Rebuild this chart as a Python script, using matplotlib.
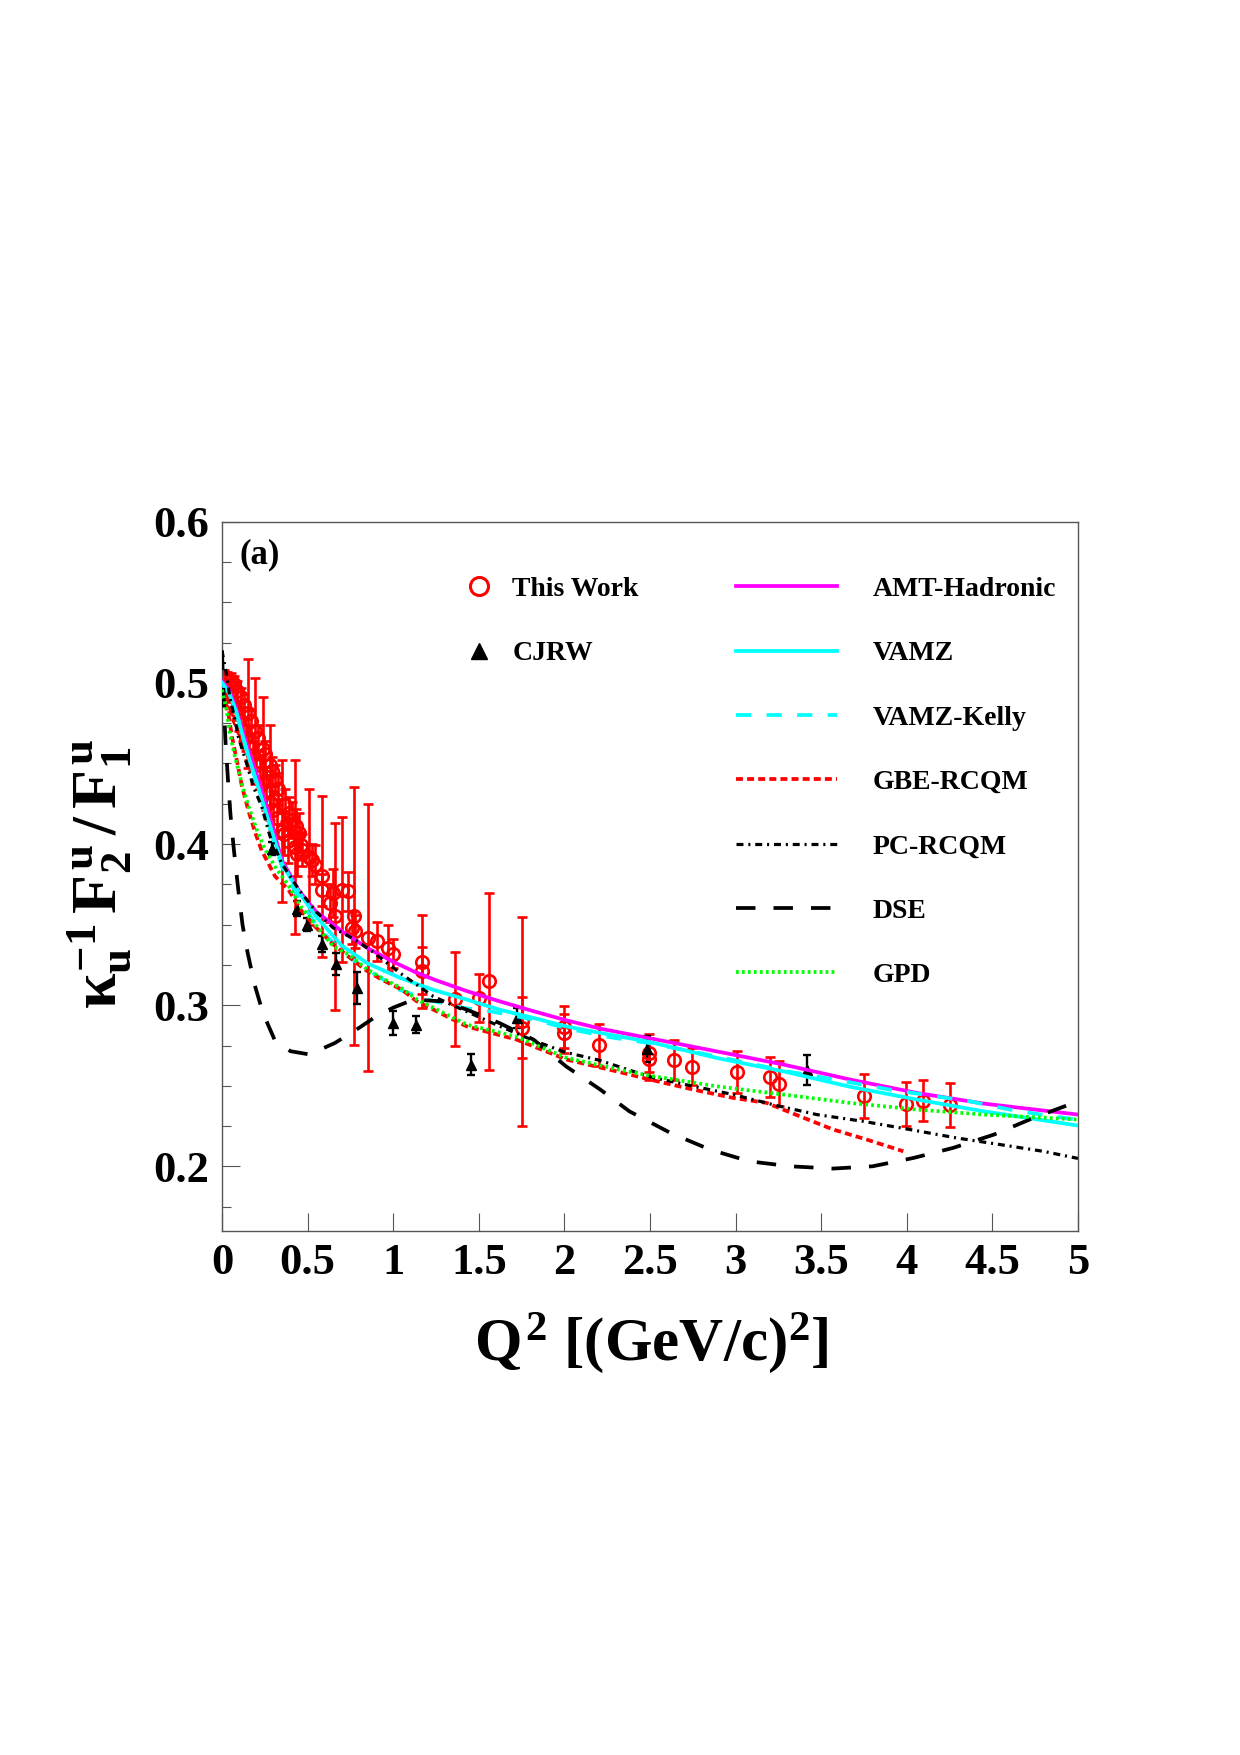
import matplotlib
matplotlib.use('Agg')
import matplotlib.pyplot as plt
from matplotlib.ticker import MultipleLocator
from matplotlib.lines import Line2D

plt.rcParams['font.family'] = ['Liberation Serif', 'DejaVu Serif']
plt.rcParams['font.weight'] = 'bold'
plt.rcParams['mathtext.fontset'] = 'custom'
plt.rcParams['mathtext.rm'] = 'Liberation Serif:bold'
plt.rcParams['mathtext.it'] = 'Liberation Serif:bold'
plt.rcParams['mathtext.bf'] = 'Liberation Serif:bold'
plt.rcParams['lines.scale_dashes'] = False

# ---------------- data: This Work ----------------
tw_q2 = [0.010, 0.030, 0.050, 0.070, 0.090, 0.110, 0.130, 0.154, 0.170, 0.195, 0.210, 0.237, 0.250,
         0.280, 0.290, 0.310, 0.330, 0.370, 0.390, 0.410, 0.430, 0.450,
         0.020, 0.040, 0.060, 0.080, 0.100, 0.120, 0.140, 0.160, 0.180, 0.200, 0.220, 0.240, 0.260,
         0.280, 0.300, 0.320, 0.349, 0.360, 0.383, 0.428, 0.440,
         0.461, 0.469, 0.506, 0.524, 0.543, 0.582, 0.582, 0.631, 0.650, 0.660, 0.699, 0.738, 0.758,
         0.770, 0.777, 0.855, 0.903, 0.972, 1.002, 1.166, 1.166, 1.361, 1.499, 1.558, 1.751, 1.751,
         2.000, 2.000, 2.202, 2.496, 2.496, 2.640, 2.747, 3.006, 3.199, 3.252, 3.752, 3.998, 4.096, 4.252]
tw_r = [0.504, 0.503, 0.501, 0.499, 0.495, 0.491, 0.486, 0.481, 0.476, 0.470, 0.466, 0.459, 0.456,
        0.449, 0.445, 0.440, 0.434, 0.424, 0.419, 0.415, 0.411, 0.407,
        0.497, 0.493, 0.488, 0.483, 0.477, 0.471, 0.466, 0.460, 0.455, 0.449, 0.444, 0.438, 0.432,
        0.426, 0.421, 0.416, 0.408, 0.406, 0.402, 0.398, 0.394,
        0.3996, 0.3965, 0.392, 0.3903, 0.3872, 0.380, 0.3717, 0.3634, 0.3696, 0.3551, 0.3717, 0.3706, 0.3479,
        0.3555, 0.3458, 0.342, 0.3396, 0.3355, 0.3318, 0.327, 0.3215, 0.3039, 0.3045, 0.3148, 0.290, 0.286,
        0.2865, 0.2825, 0.2752, 0.2704, 0.2667, 0.266, 0.262, 0.2586, 0.2553, 0.2514, 0.2438, 0.2388, 0.2409, 0.238]
tw_err = [0.004, 0.004, 0.005, 0.005, 0.006, 0.006, 0.007, 0.034, 0.007, 0.033, 0.008, 0.032, 0.008,
          0.025, 0.009, 0.009, 0.010, 0.010, 0.010, 0.011, 0.011, 0.012,
          0.005, 0.005, 0.006, 0.006, 0.007, 0.007, 0.008, 0.008, 0.009, 0.009, 0.010, 0.010, 0.011,
          0.011, 0.012, 0.012, 0.044, 0.013, 0.014, 0.054, 0.014,
          0.008, 0.010, 0.042, 0.010, 0.012, 0.050, 0.010, 0.012, 0.015, 0.058, 0.045, 0.012, 0.010,
          0.080, 0.010, 0.083, 0.012, 0.014, 0.009, 0.029, 0.0145, 0.029, 0.015, 0.055, 0.065, 0.019,
          0.013, 0.012, 0.013, 0.012, 0.013, 0.0125, 0.0115, 0.013, 0.0125, 0.014, 0.0138, 0.0134, 0.0128, 0.0137]

# ---------------- data: CJRW ----------------
cj_q2 = [0.29, 0.44, 0.495, 0.586, 0.668, 0.787, 1.002, 1.131, 1.452, 1.721, 2.481, 3.415]
cj_r = [0.397, 0.360, 0.350, 0.338, 0.3257, 0.3107, 0.289, 0.288, 0.2632, 0.2921, 0.2729, 0.260]
cj_err = [0.004, 0.0045, 0.004, 0.0047, 0.007, 0.010, 0.0074, 0.0052, 0.0067, 0.006, 0.0083, 0.0093]

# ---------------- model curves ----------------
amt_q2 = [0, 0.04, 0.08, 0.15, 0.21, 0.27, 0.35, 0.45, 0.55, 0.7, 0.85, 1.0, 1.13, 1.25, 1.43, 1.62,
          1.82, 2.01, 2.21, 2.5, 2.89, 3.28, 3.67, 4.06, 4.45, 5.0]
amt_r = [0.501, 0.496, 0.485, 0.46, 0.441, 0.42, 0.39, 0.371, 0.358, 0.346, 0.3355, 0.327, 0.3205, 0.3155,
         0.3088, 0.3025, 0.2963, 0.2907, 0.2855, 0.2795, 0.2714, 0.2632, 0.2539, 0.2456, 0.239, 0.2322]

vamz_q2 = [0, 0.04, 0.08, 0.15, 0.21, 0.27, 0.35, 0.45, 0.55, 0.7, 0.85, 1.04, 1.23, 1.43, 1.62, 1.82,
           2.01, 2.21, 2.5, 2.89, 3.28, 3.67, 4.06, 4.45, 5.0]
vamz_r = [0.5, 0.494, 0.483, 0.456, 0.436, 0.415, 0.388, 0.37, 0.355, 0.337, 0.326, 0.317, 0.3097, 0.3035,
          0.2973, 0.2921, 0.2869, 0.2828, 0.2772, 0.2673, 0.259, 0.2494, 0.2415, 0.2342, 0.2254]

kelly_q2 = [0, 0.04, 0.08, 0.15, 0.21, 0.27, 0.35, 0.45, 0.55, 0.7, 0.88, 1.04, 1.2, 1.4, 1.57, 1.82,
            2.03, 2.27, 2.5, 2.9, 3.3, 3.6, 3.9, 4.37, 4.6, 4.82, 5.0]
kelly_r = [0.5, 0.494, 0.483, 0.456, 0.435, 0.413, 0.386, 0.366, 0.35, 0.333, 0.32, 0.3095, 0.3035, 0.2985,
           0.2962, 0.2911, 0.2853, 0.2801, 0.2765, 0.268, 0.259, 0.2535, 0.2477, 0.2404, 0.2353, 0.2316, 0.229]

gbe_q2 = [0, 0.037, 0.058, 0.086, 0.117, 0.155, 0.195, 0.232, 0.31, 0.388, 0.465, 0.543, 0.641, 0.738,
          0.835, 0.933, 1.05, 1.137, 1.429, 1.721, 2.013, 2.305, 2.5, 2.753, 2.987, 3.182, 3.376, 3.571,
          3.766, 3.98]
gbe_r = [0.4936, 0.4812, 0.4667, 0.4523, 0.4357, 0.4205, 0.4068, 0.396, 0.38, 0.3717, 0.3585, 0.3489,
         0.3386, 0.3303, 0.3221, 0.3159, 0.3097, 0.3025, 0.2869, 0.2787, 0.2663, 0.259, 0.2539, 0.2477,
         0.2425, 0.2394, 0.2311, 0.2229, 0.2167, 0.2094]

pc_q2 = [0, 0.027, 0.047, 0.076, 0.095, 0.144, 0.183, 0.232, 0.28, 0.349, 0.447, 0.55, 0.65, 0.777, 0.87,
         1.04, 1.234, 1.41, 1.6, 1.8, 2.0, 2.2, 2.5, 2.734, 2.987, 3.24, 3.474, 3.746, 4.019, 4.291, 4.544,
         4.797, 5.0]
pc_r = [0.52, 0.505, 0.4905, 0.477, 0.4667, 0.45, 0.4357, 0.4233, 0.405, 0.388, 0.372, 0.358, 0.348,
        0.3407, 0.334, 0.32, 0.3055, 0.297, 0.288, 0.279, 0.271, 0.266, 0.2556, 0.2502, 0.2446, 0.2378,
        0.2322, 0.228, 0.2229, 0.2177, 0.2136, 0.2094, 0.205]

dse_q2 = [0, 0.01, 0.02, 0.035, 0.05, 0.07, 0.095, 0.12, 0.145, 0.19, 0.24, 0.31, 0.40, 0.51, 0.66, 0.8,
          0.9, 1.0, 1.12, 1.29, 1.43, 1.62, 1.82, 2.01, 2.21, 2.38, 2.62, 2.85, 3.08, 3.32, 3.57, 3.8,
          4.04, 4.27, 4.51, 4.74, 5.0]
dse_r = [0.52, 0.49, 0.465, 0.44, 0.418, 0.396, 0.372, 0.35, 0.335, 0.313, 0.295, 0.278, 0.2715, 0.2695,
         0.2766, 0.2859, 0.2931, 0.2985, 0.3035, 0.3024, 0.2973, 0.289, 0.2787, 0.2621, 0.2477, 0.2342,
         0.2208, 0.2105, 0.2032, 0.2001, 0.1987, 0.2001, 0.2053, 0.2115, 0.2198, 0.2301, 0.2404]

gpd_q2 = [0, 0.027, 0.047, 0.076, 0.115, 0.155, 0.203, 0.25, 0.31, 0.39, 0.465, 0.543, 0.65, 0.74, 0.845,
          0.94, 1.05, 1.14, 1.43, 1.72, 2.01, 2.3, 2.5, 2.89, 3.28, 3.67, 4.06, 4.45, 5.0]
gpd_r = [0.4957, 0.4833, 0.468, 0.4543, 0.4378, 0.4233, 0.4089, 0.397, 0.386, 0.374, 0.3605, 0.3505,
         0.3365, 0.3315, 0.3225, 0.3165, 0.3105, 0.3035, 0.288, 0.2805, 0.2675, 0.2605, 0.2563, 0.2497,
         0.2446, 0.2394, 0.2353, 0.2322, 0.2291]

x_ticks = [0, 0.5, 1, 1.5, 2, 2.5, 3, 3.5, 4, 4.5, 5]
x_tick_labels = ['0', '0.5', '1', '1.5', '2', '2.5', '3', '3.5', '4', '4.5', '5']
y_ticks = [0.2, 0.3, 0.4, 0.5, 0.6]
y_tick_labels = ['0.2', '0.3', '0.4', '0.5', '0.6']

# ---------------- figure ----------------
fig = plt.figure(figsize=(12.4, 17.55), dpi=100)
ax = fig.add_axes([0.1790, 0.2986, 0.6903, 0.4042])

ax.errorbar(tw_q2, tw_r, yerr=tw_err, fmt='o', ms=9, mfc='none', mec='red', mew=1.9,
            ecolor='red', elinewidth=1.9, capsize=3.8, capthick=1.9, zorder=2)
ax.errorbar(cj_q2, cj_r, yerr=cj_err, fmt='^', ms=7.5, mfc='black', mec='black',
            ecolor='black', elinewidth=1.7, capsize=3.0, capthick=1.7, zorder=2)

lw = 2.7
ax.plot(amt_q2, amt_r, color='#ff00ff', lw=lw, zorder=4)
ax.plot(vamz_q2, vamz_r, color='#00ffff', lw=lw, zorder=4)
ax.plot(kelly_q2, kelly_r, color='#00ffff', lw=lw, dashes=[11, 11], zorder=4)
ax.plot(gbe_q2, gbe_r, color='#ff0000', lw=lw, dashes=[5, 3], zorder=4)
ax.plot(pc_q2, pc_r, color='black', lw=lw * 0.85, dashes=[5, 3.5, 1.5, 3.5], zorder=4)
ax.plot(dse_q2, dse_r, color='black', lw=lw, dashes=[14, 13], zorder=4)
ax.plot(gpd_q2, gpd_r, color='#00ff00', lw=lw, dashes=[2, 2.3], zorder=4)

ax.set_xlim(0, 5)
ax.set_ylim(0.16, 0.6)
ax.set_xticks(x_ticks)
ax.set_xticklabels(x_tick_labels)
ax.set_yticks(y_ticks)
ax.set_yticklabels(y_tick_labels)
ax.yaxis.set_minor_locator(MultipleLocator(0.025))

for sp in ax.spines.values():
    sp.set_linewidth(1.0)
    sp.set_color('#555555')
ax.tick_params(which='both', direction='in', top=False, right=False, color='#555555')
ax.tick_params(which='major', length=13, width=0.8, labelsize=32, pad=9)
ax.tick_params(which='minor', length=6.5, width=0.8)

ax.text(0.021, 0.977, '(a)', transform=ax.transAxes, ha='left', va='top', fontsize=25, fontweight='bold')

fig.text(0.525, 1 - 1343 / 1755, r'$Q^{2}$ [(GeV/c)$^{2}$]', ha='center', va='center', fontsize=44)
fig.text(0.0798, 0.5017, r'$\kappa_{u}^{-1}\,F_{2}^{u}\,/\,F_{1}^{u}$', ha='center', va='center',
         rotation=90, fontsize=46)

# legends
h_tw = Line2D([], [], marker='o', ls='none', mfc='none', mec='red', mew=2.2, ms=13)
h_cj = Line2D([], [], marker='^', ls='none', mfc='black', mec='black', ms=12)
leg1 = ax.legend([h_tw, h_cj], ['This Work', 'CJRW'], loc='upper left', bbox_to_anchor=(0.281, 0.9225),
                 frameon=False, fontsize=20, handlelength=1.2, handletextpad=0.6, labelspacing=1.40,
                 borderpad=0, borderaxespad=0)
ax.add_artist(leg1)

hl = [Line2D([], [], color='#ff00ff', lw=lw),
      Line2D([], [], color='#00ffff', lw=lw),
      Line2D([], [], color='#00ffff', lw=lw, dashes=[11, 11]),
      Line2D([], [], color='#ff0000', lw=lw, dashes=[5, 3]),
      Line2D([], [], color='black', lw=lw * 0.85, dashes=[5, 3.5, 1.5, 3.5]),
      Line2D([], [], color='black', lw=lw, dashes=[14, 13]),
      Line2D([], [], color='#00ff00', lw=lw, dashes=[2, 2.3])]
labels = ['AMT-Hadronic', 'VAMZ', 'VAMZ-Kelly', 'GBE-RCQM', 'PC-RCQM', 'DSE', 'GPD']
ax.legend(hl, labels, loc='upper left', bbox_to_anchor=(0.6005, 0.9225), frameon=False, fontsize=20,
          handlelength=3.63, handletextpad=1.3, labelspacing=1.40, borderpad=0, borderaxespad=0)

fig.savefig('out.png', dpi=100)
